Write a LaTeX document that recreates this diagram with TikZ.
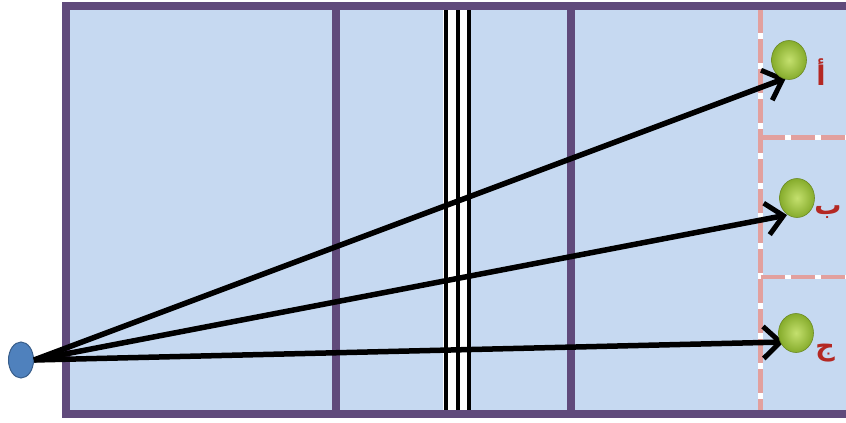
\documentclass[tikz,border=0pt]{standalone}
\usepackage{fontspec}
\newfontfamily\arabicfont[Script=Arabic,BoldFont={DejaVu Sans Bold}]{DejaVu Sans}
\TeXXeTstate=1
\usetikzlibrary{arrows.meta,shapes.geometric}
\definecolor{court}{RGB}{198,217,241}
\definecolor{courtline}{RGB}{96,74,123}
\definecolor{zone}{RGB}{226,160,158}
\definecolor{lbl}{RGB}{180,40,35}
\definecolor{ballin}{RGB}{196,224,110}
\definecolor{ballout}{RGB}{134,172,44}
\definecolor{playerfill}{RGB}{79,129,189}
\definecolor{playerline}{RGB}{56,93,138}
\tikzset{
  courtedge/.style={draw=courtline,line width=8pt},
  zoneline/.style={draw=zone,line width=4.5pt,dash pattern=on 24pt off 6pt},
  zonebase/.style={draw=white,line width=4.5pt},
  netline/.style={draw=black,line width=4pt},
  shot/.style={draw=black,line width=5.5pt,-{Straight Barb[length=17pt,width=32pt,line width=5pt]}},
  ball/.style={ellipse,minimum width=35pt,minimum height=39pt,inner sep=0pt,
    inner color=ballin,outer color=ballout,draw=ballout!80!black,line width=0.6pt},
  zonelabel/.style={text=lbl,font=\arabicfont\bfseries\fontsize{27}{29}\selectfont,inner sep=0pt},
}
\begin{document}
\begin{tikzpicture}[x=1pt,y=-1pt]
\useasboundingbox (0,0) rectangle (846,423);
% court
\fill[court] (66,5.5) rectangle (860,414);
\draw[courtedge] (336,5.5) -- (336,414);
\draw[courtedge] (571,5.5) -- (571,414);
% net
\fill[white] (443,9) rectangle (471,410);
\draw[netline] (446,9) -- (446,410);
\draw[netline] (457.5,9) -- (457.5,410);
\draw[netline] (469,9) -- (469,410);
% zones
\draw[zonebase] (760.5,9) -- (760.5,410);
\draw[zonebase] (760.5,137.5) -- (850,137.5);
\draw[zonebase] (760.5,277) -- (850,277);
\draw[zoneline] (760.5,9) -- (760.5,410);
\draw[zoneline] (760.5,137.5) -- (850,137.5);
\draw[zoneline] (760.5,277) -- (850,277);
% border
\draw[courtedge] (860,5.5) -- (66,5.5) -- (66,414) -- (860,414);
% player and balls
\node[ellipse,minimum width=25pt,minimum height=36pt,inner sep=0pt,fill=playerfill,draw=playerline,line width=1pt] (player) at (21,360) {};
\coordinate (tipA) at (786,78);
\coordinate (tipB) at (787,215);
\coordinate (tipC) at (784,342);
\draw[shot] (player.east) -- (tipA);
\draw[shot] (player.east) -- (tipB);
\draw[shot] (player.east) -- (tipC);
\node[ball] (ballA) at (789,60) {};
\node[ball] (ballB) at (797,198) {};
\node[ball] (ballC) at (796,333) {};
\node[zonelabel] (labA) at (821,72) {\beginR أ\endR};
\node[zonelabel] (labB) at (828,212) {\beginR ب\endR};
\node[zonelabel] (labC) at (825,353) {\beginR ج\endR};
\end{tikzpicture}
\end{document}
